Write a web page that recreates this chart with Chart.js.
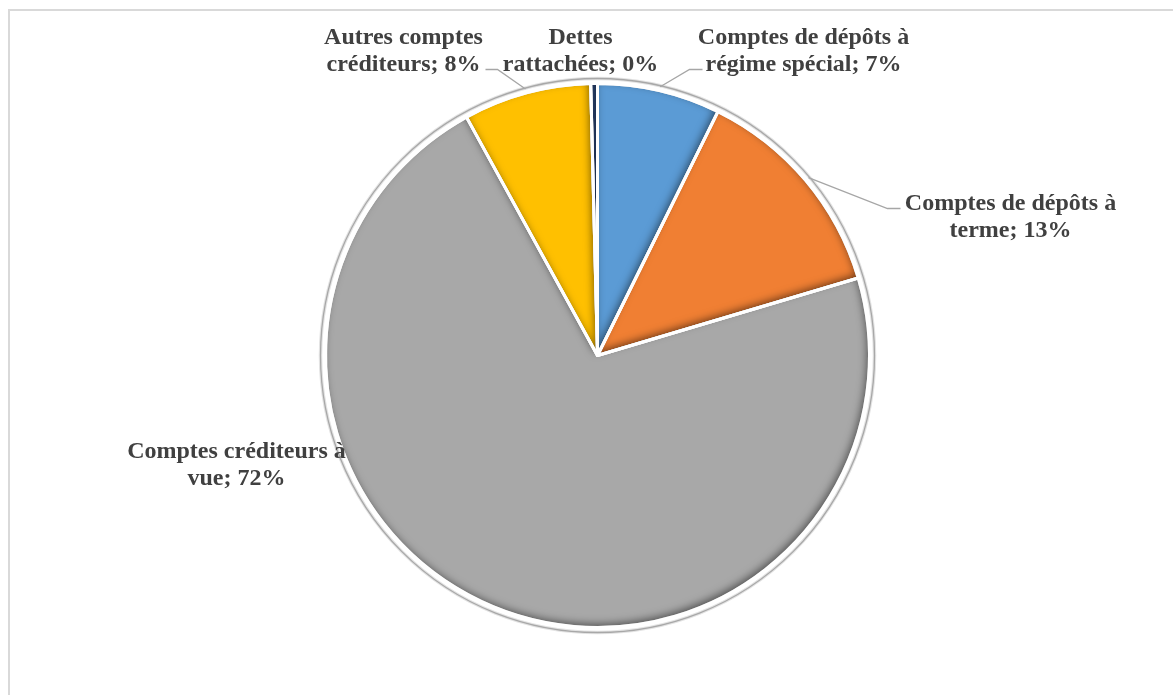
<!DOCTYPE html>
<html>
<head>
<meta charset="utf-8">
<script src="https://cdn.jsdelivr.net/npm/chart.js@4"></script>
<style>
  html, body { margin: 0; padding: 0; background: #fff; }
  #wrap { position: relative; width: 1173px; height: 695px; }
</style>
</head>
<body>
<div id="wrap"><canvas id="myChart"></canvas></div>
<script>
// category names, already split on the lines they are printed on
const categories = [
    ['Comptes de dépôts à', 'régime spécial'],
    ['Comptes de dépôts à', 'terme'],
    ['Comptes créditeurs à', 'vue'],
    ['Autres comptes', 'créditeurs'],
    ['Dettes', 'rattachées']
];

// share of each account type (%)
const values = [7.3, 13.1, 71.6, 7.6, 0.4];

const colors = ['#5B9BD5', '#F07F33', '#A8A8A8', '#FFC000', '#2E4A7D'];

// label placement relative to the pie centre: text centre x, first baseline y,
// and the elbow/end points of the leader line (null = no leader)
const labelLayout = [
    { dx: 206, dy: -312, leader: [[92, -286], [105, -286]] },
    { dx: 413, dy: -146, leader: [[290, -147], [303, -147]] },
    { dx: -361, dy: 102, leader: null },
    { dx: -194, dy: -312, leader: [[-100, -286], [-112, -286]] },
    { dx: -17, dy: -312, leader: null }
];

const FONT = 'bold 24px "Liberation Serif", "Times New Roman", serif';
const LINE_H = 27;

function arcPath(ctx, a) {
    ctx.beginPath();
    ctx.moveTo(a.x, a.y);
    ctx.arc(a.x, a.y, a.outerRadius, a.startAngle, a.endAngle);
    ctx.closePath();
}

// frame, outer ring, bevel shading, leaders and labels
const pieDecor = {
    id: 'pieDecor',
    beforeDraw(chart) {
        const ctx = chart.ctx;
        ctx.save();
        ctx.strokeStyle = '#d9d9d9';
        ctx.lineWidth = 2;
        ctx.strokeRect(9, 10, 1400, 900);
        ctx.restore();
    },
    beforeDatasetsDraw(chart) {
        const ctx = chart.ctx;
        const a = chart.getDatasetMeta(0).data[0];
        ctx.save();
        ctx.beginPath();
        ctx.arc(a.x, a.y, a.outerRadius + 5, 0, Math.PI * 2);
        ctx.strokeStyle = '#e3e3e3';
        ctx.lineWidth = 3.5;
        ctx.stroke();
        ctx.beginPath();
        ctx.arc(a.x, a.y, a.outerRadius + 5, 0, Math.PI * 2);
        ctx.strokeStyle = '#a8a8a8';
        ctx.lineWidth = 1.3;
        ctx.stroke();
        ctx.restore();
    },
    afterDatasetsDraw(chart) {
        const ctx = chart.ctx;
        const arcs = chart.getDatasetMeta(0).data;
        arcs.forEach(el => {
            const a = el.getProps(['x', 'y', 'startAngle', 'endAngle', 'outerRadius'], true);
            // inner shadow on the lower/right edges of each slice
            ctx.save();
            arcPath(ctx, a);
            ctx.clip();
            ctx.beginPath();
            ctx.rect(-2000, -2000, 6000, 6000);
            ctx.moveTo(a.x, a.y);
            ctx.arc(a.x, a.y, a.outerRadius, a.startAngle, a.endAngle);
            ctx.closePath();
            ctx.shadowColor = 'rgba(0,0,0,0.55)';
            ctx.shadowBlur = 8;
            ctx.shadowOffsetX = -2;
            ctx.shadowOffsetY = -3;
            ctx.fillStyle = '#000';
            ctx.fill('evenodd');
            ctx.restore();
        });
        // white separators on top of the shading
        arcs.forEach(el => {
            const a = el.getProps(['x', 'y', 'startAngle', 'endAngle', 'outerRadius'], true);
            ctx.save();
            arcPath(ctx, a);
            ctx.strokeStyle = '#ffffff';
            ctx.lineWidth = 3;
            ctx.lineJoin = 'round';
            ctx.stroke();
            ctx.restore();
        });
    },
    afterDraw(chart) {
        const ctx = chart.ctx;
        const arcs = chart.getDatasetMeta(0).data;
        const total = values.reduce((s, v) => s + v, 0);
        ctx.save();
        arcs.forEach((el, i) => {
            const a = el.getProps(['x', 'y', 'startAngle', 'endAngle', 'outerRadius'], true);
            const lay = labelLayout[i];
            if (lay.leader) {
                const mid = (a.startAngle + a.endAngle) / 2;
                const r = a.outerRadius + 4;
                ctx.beginPath();
                ctx.moveTo(a.x + Math.cos(mid) * r, a.y + Math.sin(mid) * r);
                lay.leader.forEach(p => ctx.lineTo(a.x + p[0], a.y + p[1]));
                ctx.strokeStyle = '#a6a6a6';
                ctx.lineWidth = 1.3;
                ctx.stroke();
            }
            const pct = Math.round(values[i] / total * 100);
            const lines = categories[i].slice();
            lines[lines.length - 1] += '; ' + pct + '%';
            ctx.font = FONT;
            ctx.fillStyle = '#404040';
            ctx.textAlign = 'center';
            ctx.textBaseline = 'alphabetic';
            lines.forEach((t, k) => {
                ctx.fillText(t, a.x + lay.dx, a.y + lay.dy + k * LINE_H);
            });
        });
        ctx.restore();
    }
};

const data = {
    labels: categories,
    datasets: [{
        data: values,
        backgroundColor: colors,
        borderColor: '#ffffff',
        borderWidth: 3
    }]
};

const config = {
    type: 'pie',
    data: data,
    options: {
        responsive: true,
        maintainAspectRatio: false,
        animation: false,
        layout: {
            padding: { top: 82, bottom: 66, left: 324, right: 302 }
        },
        plugins: {
            legend: { display: false },
            tooltip: { enabled: false }
        }
    },
    plugins: [pieDecor]
};

const myChart = new Chart(document.getElementById('myChart'), config);
</script>
</body>
</html>
